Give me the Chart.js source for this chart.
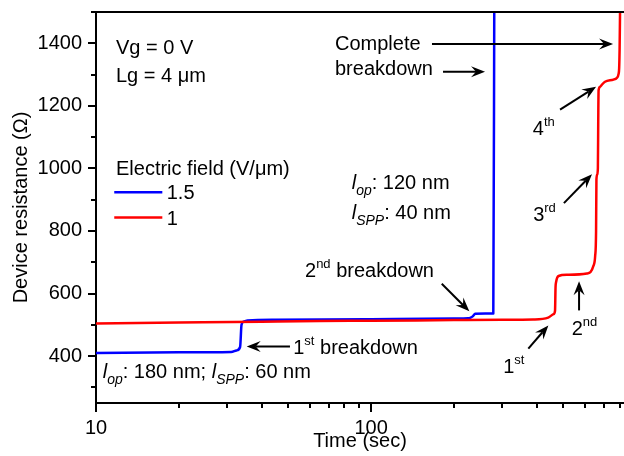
<!DOCTYPE html>
<html lang="en">
<head>
<meta charset="UTF-8" />
<title>Device resistance vs time</title>
<style>
  body { margin: 0; background: #fff; }
  #wrap { width: 624px; height: 456px; position: relative; }
</style>
</head>
<body>
<div id="wrap"><canvas id="chart"></canvas></div>
<script src="https://cdn.jsdelivr.net/npm/chart.js@4"></script>
<script>
const FONT = 'Arial, "Liberation Sans", sans-serif';

// electric field 1.5 V/um
const timeBlue = [10, 20, 31, 32.4, 33.4, 33.8, 34.4, 35.5, 45, 100, 200, 225, 229, 234, 239, 260, 278, 280.4];
const resBlue = [410, 412, 413, 418, 429, 500, 510, 514, 516, 518, 520, 521, 522, 527, 535, 536, 536, 1600];

// electric field 1 V/um
const timeRed = [10, 20, 40, 65, 100, 200, 300, 388, 440, 460, 466, 468, 470, 480, 515, 608, 643, 652, 657, 659,
  663, 667, 669, 671, 680, 689, 708, 760, 781, 793, 797, 800, 803, 806];
const resRed = [504, 507, 510, 512, 513, 515, 516, 517, 523, 534, 545, 620, 636, 656, 660, 664, 689, 720, 800, 965,
  980, 1000, 1150, 1250, 1261, 1267, 1277, 1284, 1289, 1302, 1320, 1380, 1500, 1600];

const seriesLabels = ["1.5", "1"];
const legendTitle = "Electric field (V/\u03bcm)";

const xMajorTicks = [10, 100];
const xMinorTicks = [20, 30, 40, 50, 60, 70, 80, 90, 200, 300, 400, 500, 600, 700, 800];
const yMajorTicks = [400, 600, 800, 1000, 1200, 1400];
const yMinorTicks = [300, 500, 700, 900, 1100, 1300, 1500];

// text notes, placed in data units (time, resistance) at the text baseline
const notes = [
  { t: 11.82, r: 1366, parts: [["Vg = 0 V"]] },
  { t: 11.82, r: 1277, parts: [["Lg = 4 \u03bcm"]] },
  { t: 73.9, r: 1378, parts: [["Complete"]] },
  { t: 73.9, r: 1300, parts: [["breakdown"]] },
  { t: 85.0, r: 933, parts: [["l", "i"], ["op", "sub"], [": 120 nm"]] },
  { t: 85.0, r: 837, parts: [["l", "i"], ["SPP", "sub"], [": 40 nm"]] },
  { t: 387, r: 1108, parts: [["4"], ["th", "sup"]] },
  { t: 388, r: 832, parts: [["3"], ["rd", "sup"]] },
  { t: 57.5, r: 654, parts: [["2"], ["nd", "sup"], [" breakdown"]] },
  { t: 52.1, r: 406, parts: [["1"], ["st", "sup"], [" breakdown"]] },
  { t: 10.58, r: 330.5, parts: [["l", "i"], ["op", "sub"], [": 180 nm; "], ["l", "i"], ["SPP", "sub"], [": 60 nm"]] },
  { t: 302, r: 344.5, parts: [["1"], ["st", "sup"]] },
  { t: 536, r: 466, parts: [["2"], ["nd", "sup"]] },
];

const arrows = [
  { from: [166.4, 1398], to: [757.5, 1398] },
  { from: [182.5, 1309], to: [259.4, 1309] },
  { from: [486, 1188], to: [657, 1261] },
  { from: [502, 889], to: [635, 981] },
  { from: [180.6, 631], to: [227.5, 543] },
  { from: [50.7, 431], to: [35.3, 431] },
  { from: [372.7, 424], to: [440.7, 498] },
  { from: [569.8, 546], to: [569.8, 639] },
];

function toPoints(xs, ys) {
  return xs.map((x, i) => ({ x: x, y: ys[i] }));
}

function drawRich(ctx, x, y, parts) {
  let cx = x;
  parts.forEach(([txt, kind]) => {
    let size = 20, dy = 0, style = "";
    if (kind === "sup") { size = 13; dy = -9; }
    if (kind === "sub") { size = 14; dy = 6; style = "italic "; }
    if (kind === "i") style = "italic ";
    ctx.font = style + size + "px " + FONT;
    ctx.fillText(txt, cx, y + dy);
    cx += ctx.measureText(txt).width;
  });
}

function drawArrow(ctx, x1, y1, x2, y2) {
  const a = Math.atan2(y2 - y1, x2 - x1);
  const c = Math.cos(a), s = Math.sin(a);
  const len = 14, half = 5.5, back = 9;
  ctx.beginPath();
  ctx.moveTo(x1, y1);
  ctx.lineTo(x2 - c * back, y2 - s * back);
  ctx.stroke();
  ctx.beginPath();
  ctx.moveTo(x2, y2);
  ctx.lineTo(x2 - len * c + half * s, y2 - len * s - half * c);
  ctx.lineTo(x2 - back * c, y2 - back * s);
  ctx.lineTo(x2 - len * c - half * s, y2 - len * s + half * c);
  ctx.closePath();
  ctx.fill();
}

const decorPlugin = {
  id: "decor",
  afterDraw(chart) {
    const { ctx, chartArea: area, scales: { x, y } } = chart;
    ctx.save();
    ctx.strokeStyle = "#000";
    ctx.fillStyle = "#000";
    ctx.lineWidth = 2;

    // top frame line
    ctx.beginPath();
    ctx.moveTo(area.left - 1, area.top);
    ctx.lineTo(area.right, area.top);
    ctx.stroke();

    // tick marks, long for labelled ticks
    ctx.beginPath();
    xMajorTicks.concat(xMinorTicks).forEach(v => {
      const px = Math.round(x.getPixelForValue(v));
      const len = xMajorTicks.includes(v) ? 9 : 5;
      ctx.moveTo(px, area.bottom);
      ctx.lineTo(px, area.bottom + len);
    });
    yMajorTicks.concat(yMinorTicks).forEach(v => {
      const py = Math.round(y.getPixelForValue(v));
      const len = yMajorTicks.includes(v) ? 8 : 5;
      ctx.moveTo(area.left, py);
      ctx.lineTo(area.left - len, py);
    });
    ctx.stroke();

    // legend
    ctx.textBaseline = "alphabetic";
    ctx.textAlign = "left";
    drawRich(ctx, x.getPixelForValue(11.82), y.getPixelForValue(980), [[legendTitle]]);
    const legendRows = [924, 843];
    const textRows = [902, 819];
    chart.data.datasets.forEach((ds, i) => {
      const py = y.getPixelForValue(legendRows[i]);
      ctx.strokeStyle = ds.borderColor;
      ctx.lineWidth = 2.5;
      ctx.beginPath();
      ctx.moveTo(x.getPixelForValue(11.65), py);
      ctx.lineTo(x.getPixelForValue(17.42), py);
      ctx.stroke();
      drawRich(ctx, x.getPixelForValue(18.07), y.getPixelForValue(textRows[i]), [[ds.label]]);
    });

    // notes and arrows
    notes.forEach(n => drawRich(ctx, x.getPixelForValue(n.t), y.getPixelForValue(n.r), n.parts));
    ctx.strokeStyle = "#000";
    ctx.lineWidth = 2;
    arrows.forEach(a => {
      drawArrow(ctx,
        x.getPixelForValue(a.from[0]), y.getPixelForValue(a.from[1]),
        x.getPixelForValue(a.to[0]), y.getPixelForValue(a.to[1]));
    });
    ctx.restore();
  }
};

Chart.defaults.font.family = FONT;
Chart.defaults.font.size = 20;
Chart.defaults.color = "#000";

new Chart(document.getElementById("chart"), {
  type: "scatter",
  data: {
    datasets: [
      {
        label: seriesLabels[0],
        data: toPoints(timeBlue, resBlue),
        borderColor: "#0000ff",
        order: 1,
      },
      {
        label: seriesLabels[1],
        data: toPoints(timeRed, resRed),
        borderColor: "#ff0000",
        order: 0,
      },
    ],
  },
  options: {
    responsive: true,
    maintainAspectRatio: false,
    animation: false,
    layout: { padding: { top: 10, right: 0, left: 0, bottom: 0 } },
    elements: {
      point: { radius: 0, hoverRadius: 0 },
      line: { borderWidth: 2.5, cubicInterpolationMode: "monotone", borderJoinStyle: "round" },
    },
    datasets: { scatter: { showLine: true } },
    plugins: { legend: { display: false }, tooltip: { enabled: false } },
    scales: {
      x: {
        type: "logarithmic",
        min: 10,
        max: 830,
        afterBuildTicks: s => { s.ticks = xMajorTicks.concat(xMinorTicks).map(v => ({ value: v })); },
        afterFit: s => { s.height = 53; },
        ticks: {
          autoSkip: false,
          maxRotation: 0,
          padding: 4,
          callback: v => (xMajorTicks.includes(v) ? String(v) : null),
        },
        grid: { drawOnChartArea: false, tickLength: 9, tickColor: "rgba(0,0,0,0)" },
        border: { color: "#000", width: 2 },
        title: { display: true, text: "Time (sec)", padding: { top: 0, bottom: 3 } },
      },
      y: {
        min: 250,
        max: 1500,
        afterBuildTicks: s => { s.ticks = yMinorTicks.concat(yMajorTicks).sort((a, b) => a - b).map(v => ({ value: v })); },
        afterFit: s => { s.width = 96; },
        ticks: {
          autoSkip: false,
          padding: 0,
          callback: v => (yMajorTicks.includes(v) ? String(v) : null),
        },
        grid: { drawOnChartArea: false, tickLength: 14, tickColor: "rgba(0,0,0,0)" },
        border: { color: "#000", width: 2 },
        title: { display: true, text: "Device resistance (\u03a9)", padding: { top: 9, bottom: 0 } },
      },
    },
  },
  plugins: [decorPlugin],
});
</script>
</body>
</html>
